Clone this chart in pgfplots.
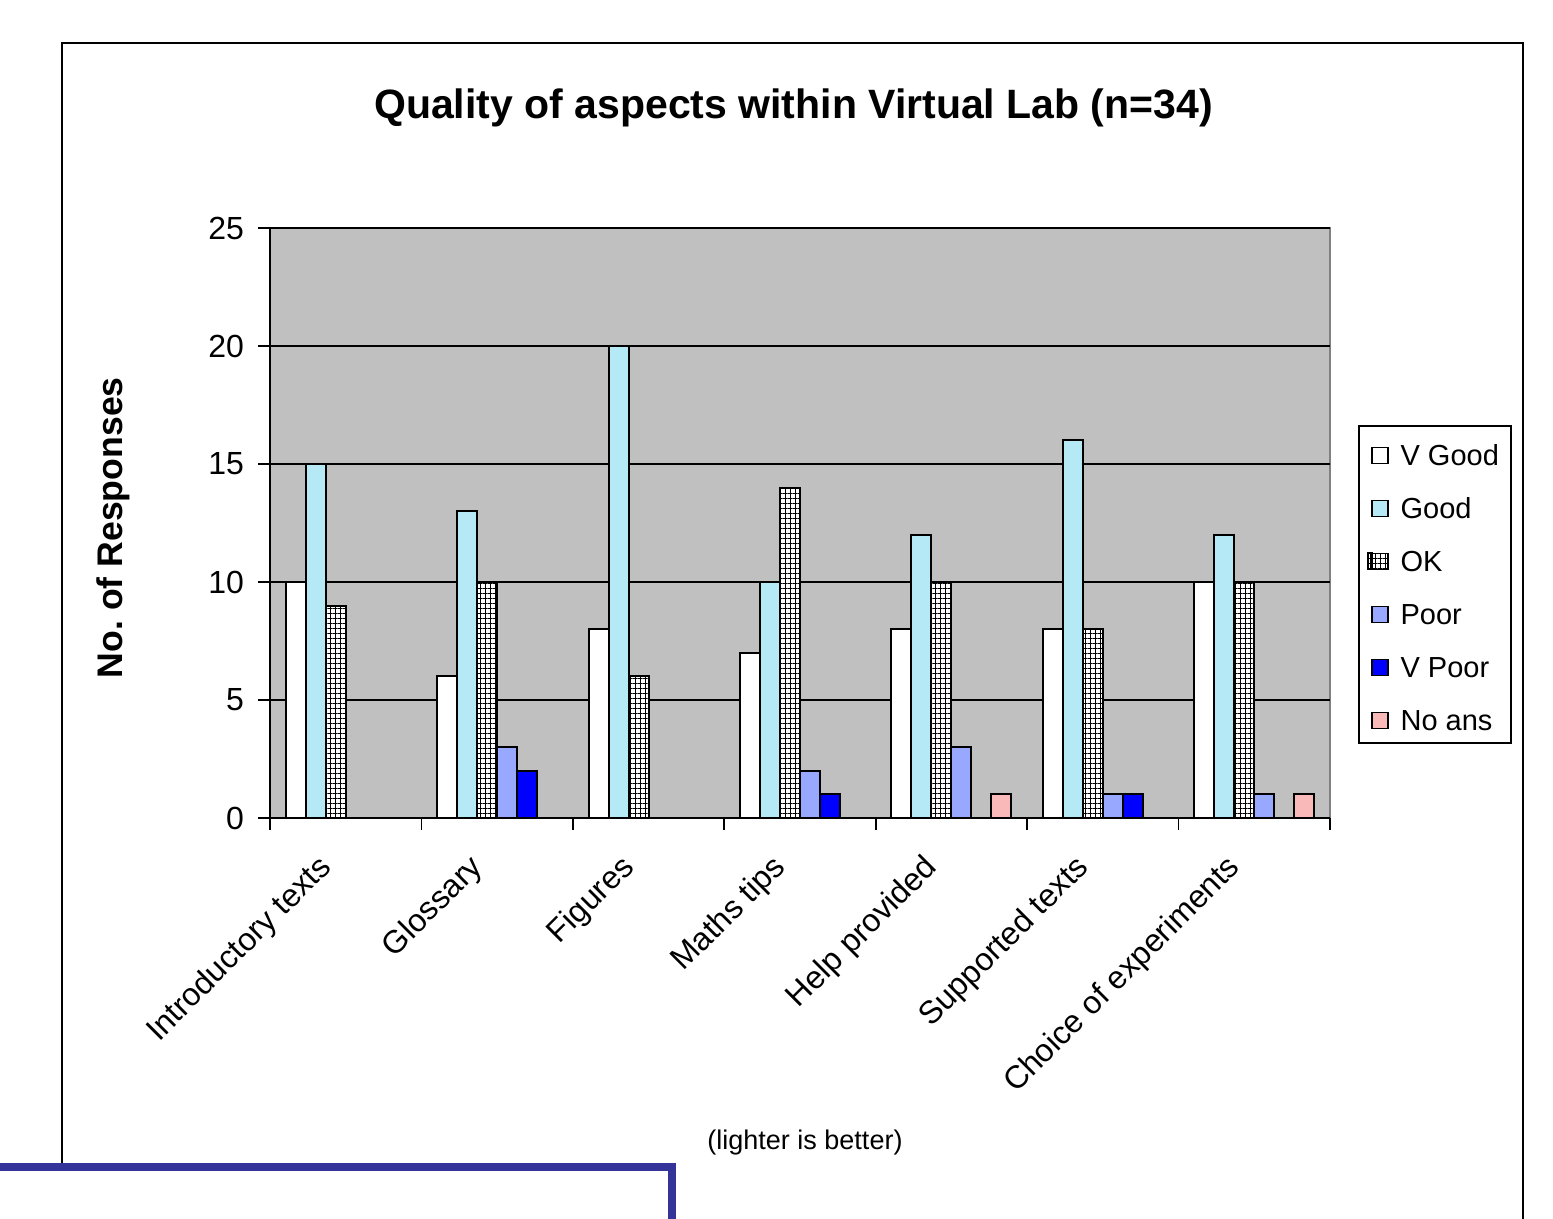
\documentclass[border=0pt]{standalone}
\usepackage{fontspec}
\setmainfont{Liberation Sans}
\usepackage{pgfplots}
\pgfplotsset{compat=1.18}
\usetikzlibrary{patterns,patterns.meta}
\definecolor{plotbg}{RGB}{192,192,192}
\definecolor{goodc}{RGB}{182,233,246}
\definecolor{poorc}{RGB}{153,168,255}
\definecolor{vpoorc}{RGB}{0,0,255}
\definecolor{noansc}{RGB}{250,185,185}
\definecolor{boxblue}{RGB}{51,51,153}
\definecolor{bordergray}{RGB}{128,128,128}
\frenchspacing
\begin{document}
\begin{tikzpicture}
\path[use as bounding box] (0,0) rectangle (776.5pt,609.5pt);
\draw[line width=1pt] (31pt,-5pt) -- (31pt,588pt) -- (761.5pt,588pt) -- (761.5pt,-5pt);
\node[font=\fontsize{20.5}{24}\selectfont\bfseries] at (396.75pt,555.5pt) {Quality of aspects within Virtual Lab (n=34)};
\begin{axis}[
  at={(135pt,200.5pt)}, anchor=south west,
  scale only axis, width=530pt, height=295pt,
  xmin=-0.5, xmax=6.5, ymin=0, ymax=25,
  ybar=0pt, bar width=10pt,
  axis background/.style={fill=plotbg, draw=bordergray, line width=1pt},
  axis x line*=bottom, axis y line*=left,
  axis line style={black, line width=1pt},
  ymajorgrids, major grid style={black, line width=0.8pt},
  ytick={0,5,...,25},
  xtick={0,...,6},
  xticklabels={Introductory texts, Glossary, Figures, Maths tips, Help provided, Supported texts, Choice of experiments},
  minor xtick={-0.5,0.5,...,6.5},
  major x tick style={draw=none},
  minor x tick style={black, line width=0.9pt},
  major y tick style={black, line width=0.9pt},
  tick align=outside,
  major tick length=6pt, minor tick length=6pt,
  /pgf/number format/assume math mode=true,
  yticklabel style={font=\fontsize{16}{19}\selectfont, xshift=-3.5pt},
  xticklabel style={font=\fontsize{16}{19}\selectfont, xshift=-7pt, yshift=-14pt, rotate=45, anchor=east},
  ylabel={No. of Responses},
  ylabel style={font=\fontsize{17.8}{20}\selectfont\bfseries, at={(axis description cs:-0.148,0.492)}, anchor=center},
  legend cell align=left,
  legend image code/.code={\path[draw=none, fill=none] (0pt,-5.8pt) rectangle (2pt,2.2pt); \draw[#1, line width=0.8pt] (2pt,-5.8pt) rectangle (10pt,2.2pt);},
  legend style={at={(1.0264,0.666)}, anchor=north west, draw=black, line width=0.8pt, fill=white,
    font=\fontsize{14.5}{17}\selectfont, row sep=8.5pt, column sep=4pt, inner xsep=4pt, inner ysep=4pt,
    nodes={inner sep=2pt, text height=14pt, text depth=0pt}},
]
\addplot[fill=white, draw=black, line width=1pt] coordinates {(0,10) (1,6) (2,8) (3,7) (4,8) (5,8) (6,10)};
\addplot[fill=goodc, draw=black, line width=1pt] coordinates {(0,15) (1,13) (2,20) (3,10) (4,12) (5,16) (6,12)};
\addplot[fill=white, draw=black, line width=1pt,
  postaction={pattern={Lines[angle=0,distance=2.5pt,line width=0.5pt]}, pattern color=black},
  postaction={pattern={Lines[angle=90,distance=2.5pt,line width=0.5pt]}, pattern color=black}]
  coordinates {(0,9) (1,10) (2,6) (3,14) (4,10) (5,8) (6,10)};
\addplot[fill=poorc, draw=black, line width=1pt] coordinates {(1,3) (3,2) (4,3) (5,1) (6,1)};
\addplot[fill=vpoorc, draw=black, line width=1pt] coordinates {(1,2) (3,1) (5,1)};
\addplot[fill=noansc, draw=black, line width=1pt] coordinates {(4,1) (6,1)};
\legend{V Good, Good, OK, Poor, V Poor, No ans}
\end{axis}
\node[font=\fontsize{13.5}{16}\selectfont] at (402.5pt,38pt) {(lighter is better)};
\fill[white] (-5pt,-5pt) rectangle (336pt,26pt);
\draw[boxblue, line width=4pt] (-5pt,26pt) -- (336pt,26pt) -- (336pt,-5pt);
\end{tikzpicture}
\end{document}
